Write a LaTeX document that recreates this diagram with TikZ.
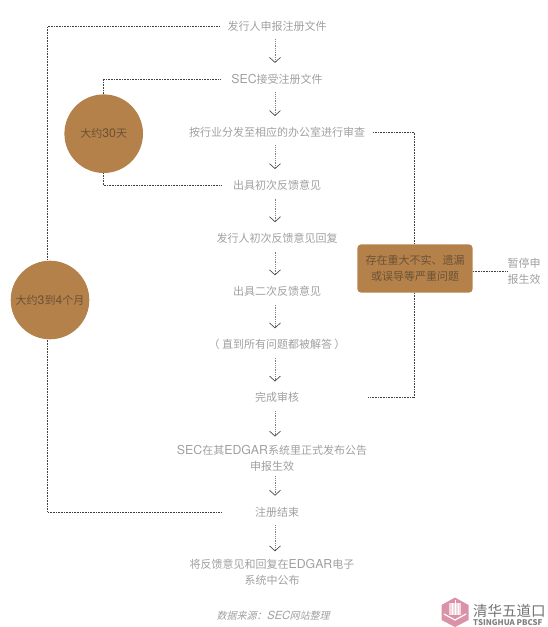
\documentclass[tikz,border=0pt]{standalone}
\usepackage{fontspec}
\setmainfont{Noto Sans CJK SC}
\newfontfamily\latinface[Scale=1.12]{TeX Gyre Heros}
\newcommand{\lat}[1]{{\latinface #1}}
\usetikzlibrary{arrows.meta,positioning,calc}
\definecolor{ochre}{HTML}{B5814A}
\definecolor{inktext}{HTML}{A0A0A0}
\definecolor{darktext}{HTML}{6A5236}
\definecolor{logopink}{HTML}{DA92A8}

\begin{document}
\begin{tikzpicture}[
    x=1pt, y=1pt,
    node distance=36.7pt,
    stepbox/.style={align=center, minimum height=16pt, inner xsep=8pt, inner ysep=0pt, text=inktext, font=\fontsize{11}{16}\selectfont},
    blob/.style={circle, fill=ochre, minimum size=78.6pt, inner sep=0pt, text=darktext, font=\fontsize{11}{16}\selectfont},
    flag/.style={rectangle, rounded corners=4pt, fill=ochre, align=center, minimum width=115.4pt, minimum height=48.4pt, inner sep=0pt, text=darktext, font=\fontsize{11}{16}\selectfont},
    link/.style={densely dotted, draw=gray, line width=0.8pt, shorten <=5pt, shorten >=8pt, -{Straight Barb[length=5pt, width=11pt, color=black!70, line width=0.7pt]}},
    guide/.style={densely dotted, draw=black!75, line width=0.6pt}
]
\useasboundingbox (0,0) rectangle (547,-627);
\coordinate (axis) at (275,0);
\coordinate (longrail) at (47.5,0);
\coordinate (shortrail) at (103,0);
\coordinate (flagrail) at (414.5,0);

\node[stepbox] (file) at (277,-26) {发行人申报注册文件};
\node[stepbox, below=of file] (accept) {\lat{SEC}接受注册文件};
\node[stepbox, below=of accept] (assign) {按行业分发至相应的办公室进行审查};
\node[stepbox, below=of assign] (first) {出具初次反馈意见};
\node[stepbox, below=of first] (reply) {发行人初次反馈意见回复};
\node[stepbox, below=of reply] (second) {出具二次反馈意见};
\node[stepbox, below=of second] (until) {（ 直到所有问题都被解答 ）};
\node[stepbox, below=of until] (done) {完成审核};
\node[stepbox, below=38.7pt of done, xshift=-5pt] (publish) {\lat{SEC}在其\lat{EDGAR}系统里正式发布公告\\申报生效};
\node[stepbox, below=32.5pt of publish, xshift=5pt] (close) {注册结束};
\node[stepbox, below=39.2pt of close, xshift=-5pt] (release) {将反馈意见和回复在\lat{EDGAR}电子\\系统中公布};

\node[blob] (month) at (50,-300) {大约\lat{3}到\lat{4}个月};
\node[blob] (days) at (103.7,-133.7) {大约\lat{30}天};
\node[flag] (issue) at (415,-268.5) {存在重大不实、遗漏\\或误导等严重问题};
\node[stepbox, inner xsep=0pt] (halt) at (524,-271) {暂停申\\报生效};

\node[text=inktext, font=\fontsize{10}{12}\selectfont, xslant=0.25] (source) at (274,-615.7) {数据来源：\lat{SEC}网站整理};

% logo
\fill[logopink] (455,-597.5) -- (468.5,-605) -- (468.5,-620) -- (455,-627) -- (441.5,-620) -- (441.5,-605) -- cycle;
\fill[white!65!logopink] (449,-603) rectangle (461,-615);
\draw[white, line width=0.5pt] (452,-603) -- (452,-615) (455,-600) -- (455,-615) (458,-603) -- (458,-615);
\draw[white, line width=1.2pt] (444,-614) -- (455,-620) -- (466,-614);
\node[anchor=west, inner sep=0pt, text=black!55, font=\fontsize{14.5}{16}\selectfont] (logoname) at (473,-611) {清华五道口};
\node[anchor=west, inner sep=0pt, text=black!50, font=\fontsize{7.9}{8}\selectfont] (logoline) at (473,-623) {\textbf{TSINGHUA PBCSF}};

\draw[link] (file.south -| axis) -- (accept.north -| axis);
\draw[link] (accept.south -| axis) -- (assign.north -| axis);
\draw[link] (assign.south -| axis) -- (first.north -| axis);
\draw[link] (first.south -| axis) -- (reply.north -| axis);
\draw[link] (reply.south -| axis) -- (second.north -| axis);
\draw[link] (second.south -| axis) -- (until.north -| axis);
\draw[link] (until.south -| axis) -- (done.north -| axis);
\draw[link] (done.south -| axis) -- (publish.north -| axis);
\draw[link] (publish.south -| axis) -- (close.north -| axis);
\draw[link] (close.south -| axis) -- (release.north -| axis);

\draw[guide] (file.west) -| (month.north -| longrail);
\draw[guide] (month.south -| longrail) |- ([xshift=-25pt]close.west);
\draw[guide, shorten <=3pt] (accept.west) -| (days.north -| shortrail);
\draw[guide, shorten >=3pt] (days.south -| shortrail) |- (first.west);
\draw[guide] (assign.east) -| (issue.north -| flagrail);
\draw[guide] (issue.south -| flagrail) |- ([xshift=61pt]done.east);
\draw[guide] (issue.east |- halt) -- (halt.west);
\end{tikzpicture}
\end{document}
